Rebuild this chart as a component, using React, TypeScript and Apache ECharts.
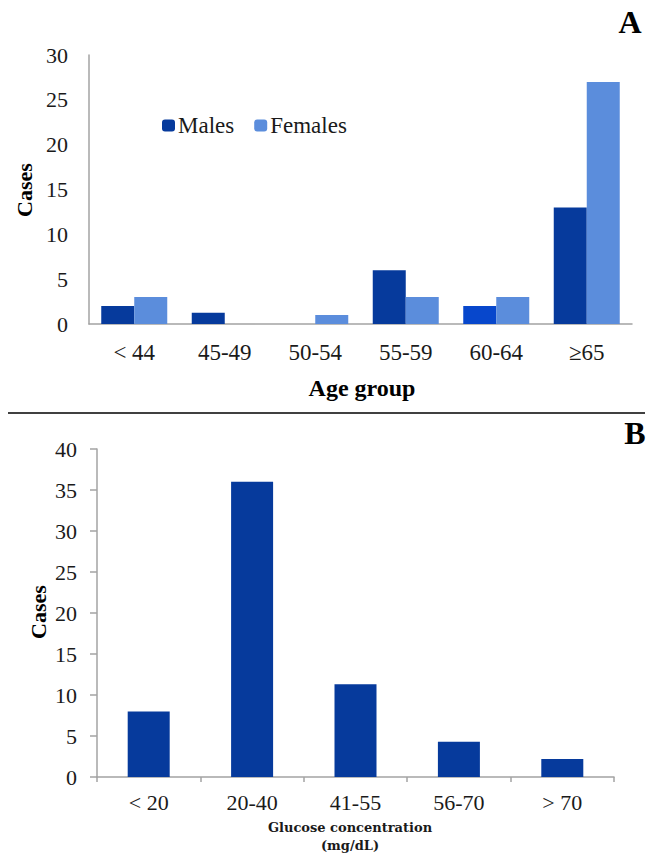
import React, { useEffect, useRef } from "react";
import * as echarts from "echarts";

const ageGroups = ["< 44", "45-49", "50-54", "55-59", "60-64", "≥65"];
const males = [2, 1.25, 0, 6, 2, 13];
const females = [3, 0, 1, 3, 3, 27];
const glucoseGroups = ["< 20", "20-40", "41-55", "56-70", "> 70"];
const glucoseCases = [8, 36, 11.3, 4.3, 2.2];

const DARK = "#063a9c";
const LIGHT = "#5b8ddc";
const BRIGHT = "#0747cc";
const AXIS = "#a3a3a3";
const SERIF = "Liberation Serif";

export default function App() {
  const ref = useRef<HTMLDivElement>(null);
  useEffect(() => {
    if (!ref.current) return;
    const chart = echarts.init(ref.current, undefined, { renderer: "svg" });
    const labelStyle = { color: "#1a1a1a", fontFamily: SERIF };
    chart.setOption({
      animation: false,
      backgroundColor: "#ffffff",
      textStyle: { fontFamily: SERIF },
      legend: {
        left: 157,
        top: 109,
        itemWidth: 13,
        itemHeight: 12,
        itemGap: 20,
        textStyle: { fontSize: 23, color: "#1a1a1a", fontFamily: SERIF, padding: [0, 0, 0, -2] },
        data: ["Males", "Females"],
      },
      grid: [
        { left: 89, top: 55, width: 543, height: 269 },
        { left: 97, top: 449, width: 517, height: 328 },
      ],
      xAxis: [
        {
          type: "category",
          gridIndex: 0,
          data: ageGroups,
          axisLine: { lineStyle: { color: AXIS, width: 1.5 } },
          axisTick: { show: false },
          axisLabel: { ...labelStyle, fontSize: 23, margin: 17 },
        },
        {
          type: "category",
          gridIndex: 1,
          data: glucoseGroups,
          axisLine: { lineStyle: { color: AXIS, width: 1.5 } },
          axisTick: { show: true, length: 5, lineStyle: { color: AXIS, width: 1.5 } },
          axisLabel: { ...labelStyle, fontSize: 22, margin: 14 },
        },
      ],
      yAxis: [
        {
          type: "value",
          gridIndex: 0,
          min: 0,
          max: 30,
          interval: 5,
          splitLine: { show: false },
          axisLine: { show: true, lineStyle: { color: AXIS, width: 1.5 } },
          axisTick: { show: false },
          axisLabel: { ...labelStyle, fontSize: 22, margin: 21 },
        },
        {
          type: "value",
          gridIndex: 1,
          min: 0,
          max: 40,
          interval: 5,
          splitLine: { show: false },
          axisLine: { show: true, lineStyle: { color: AXIS, width: 1.5 } },
          axisTick: { show: true, length: 7, lineStyle: { color: AXIS, width: 1.5 } },
          axisLabel: { ...labelStyle, fontSize: 22, margin: 20 },
        },
      ],
      series: [
        {
          name: "Males",
          type: "bar",
          xAxisIndex: 0,
          yAxisIndex: 0,
          barWidth: 33,
          barGap: "0%",
          itemStyle: { color: DARK },
          data: males.map((v, i) =>
            ageGroups[i] === "60-64" ? { value: v, itemStyle: { color: BRIGHT } } : v
          ),
        },
        {
          name: "Females",
          type: "bar",
          xAxisIndex: 0,
          yAxisIndex: 0,
          barWidth: 33,
          barGap: "0%",
          itemStyle: { color: LIGHT },
          data: females,
        },
        {
          name: "Cases",
          type: "bar",
          xAxisIndex: 1,
          yAxisIndex: 1,
          barWidth: 42,
          itemStyle: { color: DARK },
          data: glucoseCases,
        },
      ],
      graphic: [
        {
          type: "text",
          x: 630,
          y: 22,
          style: { text: "A", fontSize: 32, fontWeight: "bold", fontFamily: SERIF, fill: "#000", textAlign: "center", textVerticalAlign: "middle" },
        },
        {
          type: "text",
          x: 635,
          y: 433,
          style: { text: "B", fontSize: 32, fontWeight: "bold", fontFamily: SERIF, fill: "#000", textAlign: "center", textVerticalAlign: "middle" },
        },
        {
          type: "text",
          x: 24,
          y: 190,
          rotation: Math.PI / 2,
          style: { text: "Cases", fontSize: 22, fontWeight: "bold", fontFamily: SERIF, fill: "#000", textAlign: "center", textVerticalAlign: "middle" },
        },
        {
          type: "text",
          x: 38,
          y: 612,
          rotation: Math.PI / 2,
          style: { text: "Cases", fontSize: 22, fontWeight: "bold", fontFamily: SERIF, fill: "#000", textAlign: "center", textVerticalAlign: "middle" },
        },
        {
          type: "text",
          x: 362,
          y: 388,
          style: { text: "Age group", fontSize: 24, fontWeight: "bold", fontFamily: SERIF, fill: "#000", textAlign: "center", textVerticalAlign: "middle" },
        },
        {
          type: "text",
          x: 350,
          y: 827,
          style: { text: "Glucose concentration", fontSize: 13, fontWeight: "bold", fontFamily: "DejaVu Serif", fill: "#1a1a1a", textAlign: "center", textVerticalAlign: "middle" },
        },
        {
          type: "text",
          x: 350,
          y: 845,
          style: { text: "(mg/dL)", fontSize: 13, fontWeight: "bold", fontFamily: "DejaVu Serif", fill: "#1a1a1a", textAlign: "center", textVerticalAlign: "middle" },
        },
        {
          type: "line",
          shape: { x1: 8, y1: 413, x2: 645, y2: 413 },
          style: { stroke: "#000", lineWidth: 1.5 },
        },
      ],
    });
    return () => chart.dispose();
  }, []);
  return (
    <div
      ref={ref}
      style={{ position: "fixed", left: 0, top: 0, width: 655, height: 853, background: "#fff" }}
    />
  );
}
